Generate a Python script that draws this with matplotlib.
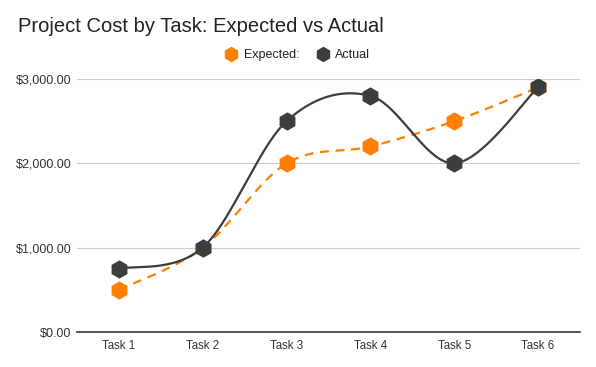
import numpy as np
import matplotlib
matplotlib.use("Agg")
import matplotlib.pyplot as plt
from matplotlib.lines import Line2D
from matplotlib.ticker import FuncFormatter

plt.rcParams["font.family"] = ["Liberation Sans", "DejaVu Sans"]

categories = ["Task 1", "Task 2", "Task 3", "Task 4", "Task 5", "Task 6"]
expected = [500, 1000, 2000, 2200, 2500, 2900]
actual = [750, 1000, 2500, 2800, 2000, 2900]
yticks = [0, 1000, 2000, 3000]

ORANGE = "#ff8000"
GRAY = "#3d3d3d"

def smooth(xs, ys, k=1/6, n=40):
    xs = np.asarray(xs, float); ys = np.asarray(ys, float)
    px, py = [], []
    m = len(xs)
    for i in range(m - 1):
        x0, y0 = xs[i], ys[i]
        x3, y3 = xs[i + 1], ys[i + 1]
        xp, yp = (xs[i - 1], ys[i - 1]) if i > 0 else (x0, y0)
        xn, yn = (xs[i + 2], ys[i + 2]) if i + 2 < m else (x3, y3)
        x1 = x0 + (x3 - xp) * k; y1 = y0 + (y3 - yp) * k
        x2 = x3 - (xn - x0) * k; y2 = y3 - (yn - y0) * k
        t = np.linspace(0, 1, n)
        bx = (1-t)**3*x0 + 3*(1-t)**2*t*x1 + 3*(1-t)*t**2*x2 + t**3*x3
        by = (1-t)**3*y0 + 3*(1-t)**2*t*y1 + 3*(1-t)*t**2*y2 + t**3*y3
        px.extend(bx); py.extend(by)
    return np.array(px), np.array(py)

fig = plt.figure(figsize=(5.96, 3.67), dpi=100)
ax = fig.add_axes([77/596, 1-332/367, (580-77)/596, (332-79)/367])

x = np.arange(len(categories))
sx, sy = smooth(x, expected)
ax.plot(sx, sy, color=ORANGE, lw=1.6, dashes=(4, 3), zorder=3)
ax.plot(x, expected, ls="none", marker="h", ms=12, color=ORANGE, mec=ORANGE, zorder=4)
sx, sy = smooth(x, actual)
ax.plot(sx, sy, color=GRAY, lw=1.6, zorder=5)
ax.plot(x, actual, ls="none", marker="h", ms=12, color=GRAY, mec=GRAY, zorder=6)

ax.set_xlim(-0.5, len(categories) - 0.5)
ax.set_ylim(0, 3000)
ax.set_yticks(yticks)
ax.yaxis.set_major_formatter(FuncFormatter(lambda v, p: "${:,.2f}".format(v)))
ax.set_xticks(x)
ax.set_xticklabels(categories)
ax.grid(axis="y", color="#cccccc", lw=0.8)
ax.set_axisbelow(True)
for s in ["top", "right", "left"]:
    ax.spines[s].set_visible(False)
ax.spines["bottom"].set_color("#333333")
ax.spines["bottom"].set_linewidth(1.2)
ax.spines["bottom"].set_zorder(7)
ax.tick_params(axis="both", length=0, labelcolor="#333333")
ax.tick_params(axis="y", pad=4, labelsize=9)
ax.tick_params(axis="x", pad=6, labelsize=8.3)

fig.text(18/596, 1-26/367, "Project Cost by Task: Expected vs Actual", fontsize=14.5,
         color="#222222", va="center", ha="left")

handles = [Line2D([], [], ls="none", marker="h", ms=10, color=ORANGE),
           Line2D([], [], ls="none", marker="h", ms=10, color=GRAY)]
fig.legend(handles, ["Expected:", "Actual"], loc="center", bbox_to_anchor=(297/596, 1-55/367),
           ncol=2, frameon=False, fontsize=9, handletextpad=0.4, columnspacing=1.3,
           handlelength=1.2, labelcolor="#222222")

fig.savefig("out.png", dpi=100)
